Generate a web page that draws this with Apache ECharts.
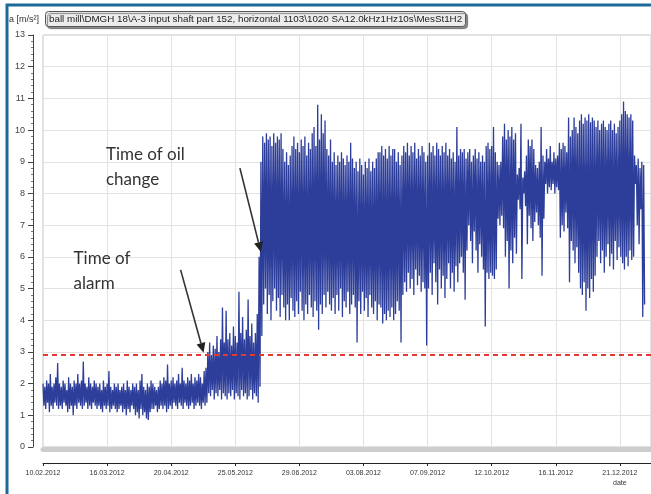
<!DOCTYPE html>
<html><head><meta charset="utf-8">
<script src="https://cdn.jsdelivr.net/npm/echarts@6/dist/echarts.min.js"></script>
<style>html,body{margin:0;padding:0;background:#fff}#c{width:651px;height:494px}</style>
</head><body><div id="c"></div>
<script>
// ---- texts ----
const titleText = 'ball mill\\DMGH 18\\A-3 input shaft part 152, horizontal 1103\\1020 SA12.0kHz1Hz10s\\MesSt1H2';
const yAxisName = 'a [m/s²]';
const xAxisName = 'date';
// ---- tick labels (every 35 days starting 10.02.2012) ----
const dateLabels = ['10.02.2012','16.03.2012','20.04.2012','25.05.2012','29.06.2012','03.08.2012','07.09.2012','12.10.2012','16.11.2012','21.12.2012'];
const tickStepDays = 35;
const alarmLevel = 2.9;
// ---- daily envelope of acceleration a [m/s²], day 0 = 10.02.2012 ----
const dailyMax = [
2.0,1.9,2.1,2.0,2.3,1.9,2.0,2.2,2.65,2.0,
1.9,2.1,2.0,1.8,2.2,2.0,1.9,2.1,2.0,2.3,
2.0,2.1,2.7,2.0,1.9,2.2,2.0,1.9,2.1,2.0,
1.9,2.0,1.8,2.1,1.9,2.0,2.4,1.9,1.8,2.0,
1.9,2.0,1.8,1.9,2.0,1.8,2.1,1.9,1.8,2.0,
1.9,2.0,1.8,2.1,2.3,1.9,1.8,2.0,1.9,2.1,
2.0,1.9,1.8,1.9,2.1,2.0,2.2,2.1,2.6,2.0,
2.1,2.2,2.0,2.1,2.3,2.0,2.5,2.1,2.0,2.2,
2.1,2.3,2.0,2.2,2.1,2.3,2.2,2.0,2.4,2.5,
3.0,3.3,2.9,3.2,3.1,3.5,3.0,3.4,4.4,3.3,
4.3,3.4,3.6,3.2,3.8,3.5,3.3,4.9,3.6,4.1,
3.4,3.7,4.65,3.5,3.9,3.3,3.6,4.2,6.0,9.0,
9.8,9.6,9.9,9.7,9.8,9.5,9.9,9.6,9.8,9.7,
9.9,9.4,9.0,9.3,8.9,9.2,9.5,9.8,9.4,9.6,
9.3,9.7,9.5,9.8,9.2,9.6,9.4,9.9,10.1,9.5,
10.8,9.7,10.5,9.9,10.3,9.4,9.2,9.7,9.0,9.3,
8.9,9.2,9.0,9.3,9.1,8.9,9.2,9.0,9.6,9.1,
8.8,9.0,8.7,9.1,8.9,8.6,9.0,8.8,9.1,8.7,
9.0,8.8,9.1,9.3,9.3,9.5,9.2,9.4,9.1,9.5,
9.2,9.4,9.4,9.0,9.3,8.9,9.2,9.5,9.3,9.6,
9.2,9.5,9.3,9.6,9.1,9.4,9.2,9.5,9.3,9.0,
9.2,9.6,9.3,9.5,9.2,9.6,9.4,9.2,9.5,9.3,
9.6,9.2,9.4,9.1,9.3,9.0,10.1,9.2,9.4,9.3,
9.4,9.1,9.3,9.4,9.0,9.2,9.4,9.1,9.3,9.0,
9.2,9.0,9.5,9.6,9.4,9.5,10.1,9.3,9.0,8.9,
9.0,9.8,10.2,9.7,10.0,9.8,10.1,9.7,9.9,8.6,
8.8,10.2,8.5,8.7,9.2,9.7,9.5,9.7,9.4,8.9,
8.8,9.0,10.1,9.2,9.0,9.4,9.1,9.5,9.0,9.3,
9.1,9.2,9.6,9.4,9.6,9.5,9.3,10.4,9.8,10.0,
10.4,10.1,9.9,10.3,10.5,10.2,10.4,10.3,10.5,10.25,
10.4,10.3,10.1,10.3,10.0,10.2,10.3,10.1,10.0,10.2,
10.3,10.0,10.2,9.9,10.1,10.3,10.5,10.9,10.6,10.5,
10.4,10.5,10.3,9.2,8.9,9.1,8.8,9.0,8.9
];
const dailyMin = [
1.3,1.2,1.4,1.1,1.3,1.2,1.4,1.3,1.2,1.3,
1.2,1.4,1.3,1.1,1.2,1.3,1.0,1.3,1.2,1.4,
1.3,1.2,1.3,1.4,1.2,1.3,1.2,1.4,1.3,1.2,
1.3,1.2,1.1,1.3,1.2,1.3,1.1,1.2,1.3,1.2,
1.1,1.2,1.3,1.1,1.2,1.0,1.2,1.1,1.3,1.2,
1.0,1.1,0.9,1.2,1.0,1.1,0.9,0.85,1.1,1.2,
1.2,1.3,1.1,1.2,1.3,1.2,1.3,1.1,1.2,1.3,
1.2,1.4,1.3,1.2,1.4,1.3,1.2,1.4,1.3,1.2,
1.3,1.4,1.2,1.3,1.4,1.3,1.2,1.4,1.3,1.4,
1.7,1.6,1.8,1.5,1.7,1.6,1.8,1.5,1.7,1.6,
1.5,1.7,1.6,1.8,1.5,1.7,1.6,1.5,1.8,1.6,
1.7,1.5,1.6,1.8,1.5,1.7,1.6,1.4,1.9,3.5,
4.5,5.0,4.2,4.8,4.0,4.6,5.0,4.3,4.7,4.1,
4.8,4.4,4.0,4.5,4.0,4.7,4.3,4.1,4.6,4.2,
4.9,4.3,4.0,4.5,4.2,4.8,4.4,4.1,4.6,4.3,
3.7,4.5,4.2,4.8,4.4,4.9,4.5,4.3,4.7,4.2,
4.8,4.3,5.0,4.1,4.6,4.4,4.9,4.2,4.5,4.8,
4.4,3.3,4.6,4.2,4.9,4.3,4.7,4.1,4.8,4.4,
4.2,4.6,4.0,4.5,4.4,3.9,4.2,4.0,4.3,4.1,
4.4,4.0,4.2,4.6,4.3,3.3,4.8,5.2,4.9,5.5,
5.0,5.3,4.8,5.6,5.1,5.4,4.9,5.2,5.0,3.2,
5.0,5.5,4.8,5.8,5.2,4.5,5.6,5.0,5.4,4.7,
5.3,5.8,5.0,5.5,4.9,5.7,5.2,5.8,6.0,5.5,
4.65,6.2,7.0,6.5,5.8,6.8,6.2,5.5,6.4,6.0,
5.6,3.8,5.5,5.3,5.5,5.4,5.3,5.6,7.2,7.0,
7.3,6.9,6.0,6.5,5.0,6.2,5.8,6.6,6.1,7.8,
7.5,5.3,8.0,7.6,6.4,7.3,6.9,6.5,7.1,7.4,
7.0,6.6,5.4,7.2,8.3,8.0,8.2,8.1,8.3,8.0,
8.2,8.1,6.6,7.0,6.8,7.4,6.9,5.2,6.5,6.2,
5.8,6.3,5.5,5.0,4.8,5.2,4.3,5.0,4.7,5.3,
4.9,5.4,6.0,6.5,5.8,6.2,5.5,6.0,6.4,5.7,
6.1,5.6,6.5,5.9,6.3,6.0,5.8,5.6,6.0,5.7,
6.2,5.9,6.0,8.3,7.0,6.4,7.5,4.1,4.5
];
// ---- annotated events (day index, value at arrow tip) ----
const events = [
  { text: 'Time of oil\nchange', day: 119, value: 6.15, textDx: -155, textDy: -110, tailDx: -21, tailDy: -84 },
  { text: 'Time of\nalarm', day: 87.7, value: 2.97, textDx: -130, textDy: -107, tailDx: -23, tailDy: -83 }
];

const seriesData = [];
for (let i = 0; i < dailyMax.length; i++) {
  seriesData.push([i, dailyMax[i]]);
  seriesData.push([i + 0.5, dailyMin[i]]);
}
const narrow = "'Liberation Sans Narrow', 'Liberation Sans', Arial, sans-serif";
const chart = echarts.init(document.getElementById('c'), null, { renderer: 'canvas' });
const xMax = 332;
chart.setOption({
  animation: false,
  backgroundColor: '#fff',
  title: {
    text: titleText, left: 45, top: 11, padding: [3, 4, 3, 4],
    backgroundColor: '#ececec', borderColor: '#555', borderWidth: 1, borderRadius: 3,
    shadowColor: 'rgba(0,0,0,0.45)', shadowOffsetX: 2, shadowOffsetY: 2, shadowBlur: 1,
    textStyle: { fontFamily: narrow, fontSize: 9.8, fontWeight: 'normal', color: '#222' }
  },
  grid: { left: 43, top: 35, width: xMax * 1.848, bottom: 47, show: true, borderColor: '#c6c6c6', borderWidth: 1 },
  xAxis: [{
    type: 'value', min: 0, max: xMax, interval: tickStepDays, position: 'bottom', offset: 16,
    axisLine: { show: true, onZero: false, lineStyle: { color: '#222', width: 1 } },
    axisTick: { show: true, length: 3, lineStyle: { color: '#222' } },
    axisLabel: {
      margin: 5, fontFamily: narrow, fontSize: 7, color: '#333', lineHeight: 10, showMaxLabel: false,
      formatter: v => {
        if (v % tickStepDays !== 0) return '';
        const idx = v / tickStepDays;
        return idx === dateLabels.length - 1 ? dateLabels[idx] + '\n' + xAxisName : dateLabels[idx];
      }
    },
    splitLine: { show: true, lineStyle: { color: '#e2e2e2', width: 1 } }
  }, {
    type: 'value', min: 0, max: xMax, position: 'bottom', offset: 2.5,
    axisLine: { show: true, onZero: false, lineStyle: { color: '#cdcdcd', width: 5 } },
    axisTick: { show: false }, axisLabel: { show: false }, splitLine: { show: false }
  }],
  yAxis: {
    type: 'value', min: 0, max: 13, interval: 1, offset: 10,
    axisLine: { show: true, onZero: false, lineStyle: { color: '#444', width: 1 } },
    axisTick: { show: true, length: 5, lineStyle: { color: '#444' } },
    minorTick: { show: true, splitNumber: 5, length: 2, lineStyle: { color: '#777' } },
    axisLabel: { margin: 8, fontFamily: narrow, fontSize: 9, color: '#444' },
    splitLine: { show: true, lineStyle: { color: '#e2e2e2', width: 1 } }
  },
  series: [{
    type: 'line', data: seriesData, showSymbol: false, sampling: null,
    lineStyle: { color: '#2c3d9a', width: 1.3 }, itemStyle: { color: '#2c3d9a' },
    markLine: {
      silent: true, symbol: 'none', label: { show: false },
      lineStyle: { color: '#e23a2e', type: [5, 4], width: 2 },
      data: [{ yAxis: alarmLevel }]
    }
  }]
});

const g = [
  { type: 'rect', z: 100, silent: true, shape: { x: 7, y: 5, width: 700, height: 600 },
    style: { fill: 'none', stroke: '#1d6a98', lineWidth: 3 } },
  { type: 'text', z: 100, left: 9, top: 15,
    style: { text: yAxisName, font: "9px 'Liberation Sans Narrow', Arial", fill: '#333' } }
];
events.forEach(ev => {
  const tip = chart.convertToPixel({ xAxisIndex: 0, yAxisIndex: 0 }, [ev.day, ev.value]);
  const tail = [tip[0] + ev.tailDx, tip[1] + ev.tailDy];
  const dx = tip[0] - tail[0], dy = tip[1] - tail[1];
  const L = Math.sqrt(dx * dx + dy * dy), ux = dx / L, uy = dy / L;
  const hl = 10, hw = 4.5;
  const base = [tip[0] - ux * hl, tip[1] - uy * hl];
  g.push({ type: 'line', z: 110, shape: { x1: tail[0], y1: tail[1], x2: base[0], y2: base[1] },
    style: { stroke: '#333', lineWidth: 1.6 } });
  g.push({ type: 'polygon', z: 110, shape: { points: [tip, [base[0] - uy * hw, base[1] + ux * hw], [base[0] + uy * hw, base[1] - ux * hw]] },
    style: { fill: '#222' } });
  g.push({ type: 'text', z: 110, x: tip[0] + ev.textDx, y: tip[1] + ev.textDy,
    style: { text: ev.text, font: "17px Lato, 'Open Sans', sans-serif", fill: '#333', lineHeight: 25 } });
});
chart.setOption({ graphic: g });
</script>
</body></html>
